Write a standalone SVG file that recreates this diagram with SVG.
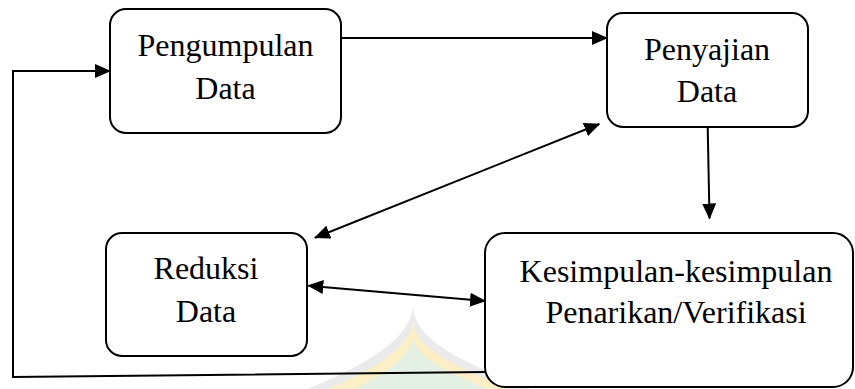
<svg xmlns="http://www.w3.org/2000/svg" width="855" height="389" viewBox="0 0 855 389">
<style>
.box{fill:#fff;stroke:#000;stroke-width:2}
.lbl{font-size:32px;fill:#000;text-anchor:middle}
.con{fill:none;stroke:#000;stroke-width:2}
</style>
<defs>
<marker id="ah" markerUnits="userSpaceOnUse" markerWidth="16" markerHeight="14" refX="15" refY="7" orient="auto-start-reverse">
<path d="M0,0 L16,7 L0,14 Z" fill="#000"/>
</marker>
</defs>
<rect width="855" height="389" fill="#fff"/>
<g id="watermark">
<path d="M413,306 C416,335 440,355 540,392 L300,392 C380,360 410,335 413,306 Z" fill="#ebebeb"/>
<path d="M413,322 C416,345 440,362 520,392 L322,392 C385,365 410,345 413,322 Z" fill="#fcefc6"/>
<path d="M413,338 C416,355 440,370 495,392 L348,392 C390,372 410,355 413,338 Z" fill="#e3f0e3"/>
</g>
<g id="connectors">
<line class="con" x1="341" y1="38" x2="607" y2="38" marker-end="url(#ah)"/>
<polyline class="con" points="485,372 13,377 13,71 110,71" marker-end="url(#ah)"/>
<line class="con" x1="707.7" y1="127" x2="709.5" y2="218.5" marker-end="url(#ah)"/>
<line class="con" x1="315" y1="237.7" x2="599.3" y2="124" marker-start="url(#ah)" marker-end="url(#ah)"/>
<line class="con" x1="308.3" y1="285.7" x2="485" y2="301" marker-start="url(#ah)" marker-end="url(#ah)"/>
</g>
<g id="pengumpulan">
<rect class="box" x="110" y="9" width="231" height="124" rx="16"/>
<text class="lbl" font-family="Liberation Serif, Times New Roman, serif" x="225.5" y="56">Pengumpulan</text>
<text class="lbl" font-family="Liberation Serif, Times New Roman, serif" x="225.5" y="99">Data</text>
</g>
<g id="penyajian">
<rect class="box" x="607" y="13" width="201" height="114" rx="16"/>
<text class="lbl" font-family="Liberation Serif, Times New Roman, serif" x="707" y="60">Penyajian</text>
<text class="lbl" font-family="Liberation Serif, Times New Roman, serif" x="707" y="102">Data</text>
</g>
<g id="reduksi">
<rect class="box" x="106" y="233" width="201" height="123" rx="16"/>
<text class="lbl" font-family="Liberation Serif, Times New Roman, serif" x="206" y="279">Reduksi</text>
<text class="lbl" font-family="Liberation Serif, Times New Roman, serif" x="206" y="322">Data</text>
</g>
<g id="kesimpulan">
<rect class="box" x="485" y="233" width="368" height="154" rx="20"/>
<text class="lbl" font-family="Liberation Serif, Times New Roman, serif" x="676" y="282">Kesimpulan-kesimpulan</text>
<text class="lbl" font-family="Liberation Serif, Times New Roman, serif" x="676" y="323">Penarikan/Verifikasi</text>
</g>
</svg>
